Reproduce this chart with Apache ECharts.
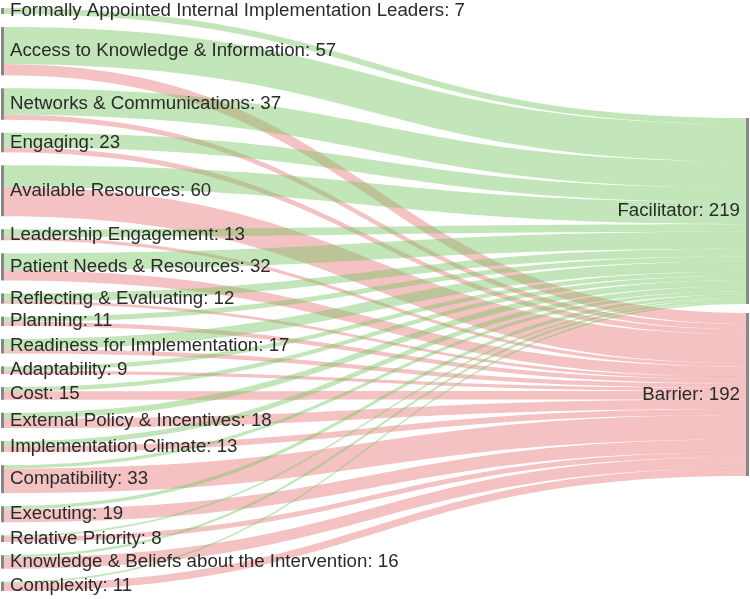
<!DOCTYPE html>
<html>
<head>
<meta charset="utf-8">
<script src="https://cdn.jsdelivr.net/npm/echarts@6/dist/echarts.min.js"></script>
<style>
html, body { margin: 0; padding: 0; background: #fff; }
#chart { width: 750px; height: 599px; }
</style>
</head>
<body>
<div id="chart"></div>
<script>
// Source categories (left column), top to bottom
var categories = [
  'Formally Appointed Internal Implementation Leaders',
  'Access to Knowledge & Information',
  'Networks & Communications',
  'Engaging',
  'Available Resources',
  'Leadership Engagement',
  'Patient Needs & Resources',
  'Reflecting & Evaluating',
  'Planning',
  'Readiness for Implementation',
  'Adaptability',
  'Cost',
  'External Policy & Incentives',
  'Implementation Climate',
  'Compatibility',
  'Executing',
  'Relative Priority',
  'Knowledge & Beliefs about the Intervention',
  'Complexity'
];
// Flow to "Facilitator" per category
var facilitatorValues = [7, 44, 31, 17, 26, 9, 20, 9, 6, 12, 5, 5, 7, 6, 4, 4, 2, 3, 2];
// Flow to "Barrier" per category
var barrierValues = [0, 13, 6, 6, 34, 4, 12, 3, 5, 5, 4, 10, 11, 7, 29, 15, 6, 13, 9];
// Target nodes (right column)
var targets = ['Facilitator', 'Barrier'];

var GREEN = 'rgba(120, 200, 100, 0.45)';
var RED = 'rgba(225, 95, 95, 0.38)';

var totals = {};
categories.forEach(function (c, i) {
  totals[c] = facilitatorValues[i] + barrierValues[i];
});
totals[targets[0]] = facilitatorValues.reduce(function (a, b) { return a + b; }, 0);
totals[targets[1]] = barrierValues.reduce(function (a, b) { return a + b; }, 0);

var nodes = categories.map(function (c) {
  return { name: c };
});
nodes.push({ name: targets[0], localY: (118 - 8) / 583, label: { position: 'left' } });
nodes.push({ name: targets[1], localY: (313 - 8) / 583, label: { position: 'left' } });

var links = [];
categories.forEach(function (c, i) {
  if (facilitatorValues[i] > 0) {
    links.push({ source: c, target: targets[0], value: facilitatorValues[i], lineStyle: { color: GREEN } });
  }
  if (barrierValues[i] > 0) {
    links.push({ source: c, target: targets[1], value: barrierValues[i], lineStyle: { color: RED } });
  }
});

var chart = echarts.init(document.getElementById('chart'), null, { renderer: 'canvas' });
chart.setOption({
  animation: false,
  series: [{
    type: 'sankey',
    left: 1,
    right: 1,
    top: 8,
    bottom: 8,
    nodeWidth: 3,
    nodeGap: 13,
    layoutIterations: 0,
    draggable: false,
    data: nodes,
    links: links,
    itemStyle: { color: '#888888', borderWidth: 0 },
    lineStyle: { opacity: 1, curveness: 0.5 },
    label: {
      show: true,
      position: 'right',
      distance: 6,
      fontSize: 18.7,
      fontFamily: 'Liberation Sans, Arial, sans-serif',
      color: '#2a2a2a',
      formatter: function (p) { return p.name + ': ' + totals[p.name]; }
    },
    emphasis: { disabled: true }
  }]
});
</script>
</body>
</html>
